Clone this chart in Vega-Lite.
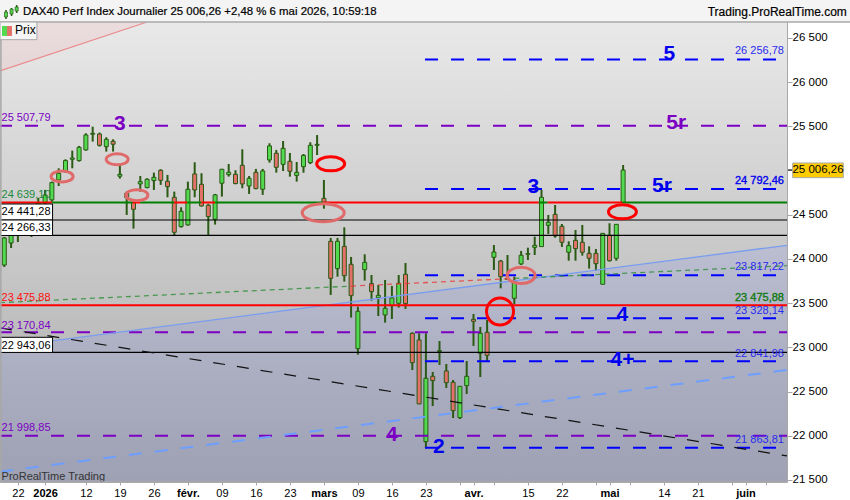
{"$schema":"https://vega.github.io/schema/vega-lite/v6.json","width":787,"height":460,"autosize":{"type":"none"},"padding":{"left":0,"top":22,"right":63,"bottom":18},"background":"#ffffff","config":{"view":{"stroke":null},"font":"Liberation Sans"},"datasets":{"candles":[{"n":0,"o":23932,"h":24249,"l":23910,"c":24238,"d":"up"},{"n":1,"o":24181,"h":24351,"l":24124,"c":24305,"d":"up"},{"n":2,"o":24305,"h":24464,"l":24192,"c":24396,"d":"up"},{"n":3,"o":24373,"h":24532,"l":24305,"c":24487,"d":"up"},{"n":4,"o":24418,"h":24611,"l":24249,"c":24554,"d":"up"},{"n":5,"o":24532,"h":24690,"l":24441,"c":24634,"d":"up"},{"n":6,"o":24634,"h":24781,"l":24554,"c":24724,"d":"up"},{"n":7,"o":24668,"h":24875,"l":24649,"c":24864,"d":"up"},{"n":8,"o":24894,"h":25026,"l":24826,"c":24970,"d":"up"},{"n":9,"o":24988,"h":25128,"l":24977,"c":25113,"d":"up"},{"n":10,"o":25128,"h":25226,"l":25026,"c":25143,"d":"up"},{"n":11,"o":25113,"h":25279,"l":25102,"c":25264,"d":"up"},{"n":12,"o":25234,"h":25422,"l":25226,"c":25403,"d":"up"},{"n":13,"o":25411,"h":25497,"l":25328,"c":25422,"d":"up"},{"n":14,"o":25414,"h":25430,"l":25271,"c":25286,"d":"down"},{"n":15,"o":25271,"h":25377,"l":25215,"c":25354,"d":"up"},{"n":16,"o":25332,"h":25354,"l":25215,"c":25298,"d":"down"},{"n":17,"o":24936,"h":25075,"l":24909,"c":24958,"d":"up"},{"n":18,"o":24743,"h":24762,"l":24498,"c":24694,"d":"down"},{"n":19,"o":24642,"h":24649,"l":24344,"c":24562,"d":"down"},{"n":20,"o":24849,"h":24939,"l":24762,"c":24875,"d":"up"},{"n":21,"o":24807,"h":24913,"l":24800,"c":24902,"d":"up"},{"n":22,"o":24887,"h":24977,"l":24781,"c":24924,"d":"up"},{"n":23,"o":25004,"h":25015,"l":24838,"c":24890,"d":"down"},{"n":24,"o":24879,"h":24951,"l":24698,"c":24819,"d":"down"},{"n":25,"o":24698,"h":24762,"l":24261,"c":24302,"d":"down"},{"n":26,"o":24366,"h":24585,"l":24355,"c":24540,"d":"up"},{"n":27,"o":24385,"h":24875,"l":24378,"c":24789,"d":"up"},{"n":28,"o":24962,"h":25094,"l":24698,"c":24781,"d":"down"},{"n":29,"o":24845,"h":24970,"l":24593,"c":24600,"d":"down"},{"n":30,"o":24608,"h":24623,"l":24261,"c":24480,"d":"down"},{"n":31,"o":24449,"h":24736,"l":24389,"c":24725,"d":"up"},{"n":32,"o":24857,"h":25019,"l":24706,"c":25015,"d":"up"},{"n":33,"o":24954,"h":25075,"l":24932,"c":24981,"d":"up"},{"n":34,"o":24958,"h":25004,"l":24845,"c":24853,"d":"down"},{"n":35,"o":25060,"h":25241,"l":24800,"c":24849,"d":"down"},{"n":36,"o":24826,"h":24939,"l":24736,"c":24913,"d":"up"},{"n":37,"o":24981,"h":25019,"l":24789,"c":24796,"d":"down"},{"n":38,"o":24789,"h":25019,"l":24725,"c":24996,"d":"up"},{"n":39,"o":25120,"h":25309,"l":25090,"c":25279,"d":"up"},{"n":40,"o":25196,"h":25234,"l":24977,"c":25037,"d":"down"},{"n":41,"o":25071,"h":25335,"l":24995,"c":25252,"d":"up"},{"n":42,"o":25105,"h":25199,"l":24931,"c":24992,"d":"down"},{"n":43,"o":24946,"h":25097,"l":24875,"c":24980,"d":"up"},{"n":44,"o":25044,"h":25188,"l":24976,"c":25172,"d":"up"},{"n":45,"o":25090,"h":25320,"l":25074,"c":25286,"d":"up"},{"n":46,"o":25286,"h":25402,"l":25176,"c":25297,"d":"up"},{"n":47,"o":24686,"h":24894,"l":24569,"c":24641,"d":"down"},{"n":48,"o":24200,"h":24238,"l":23593,"c":23781,"d":"down"},{"n":49,"o":23891,"h":24238,"l":23800,"c":24200,"d":"up"},{"n":50,"o":24143,"h":24358,"l":23744,"c":23811,"d":"down"},{"n":51,"o":23940,"h":24023,"l":23337,"c":23585,"d":"down"},{"n":52,"o":22986,"h":23461,"l":22918,"c":23408,"d":"up"},{"n":53,"o":23879,"h":24053,"l":23755,"c":23962,"d":"up"},{"n":54,"o":23721,"h":23819,"l":23529,"c":23631,"d":"down"},{"n":55,"o":23563,"h":23706,"l":23355,"c":23589,"d":"up"},{"n":56,"o":23367,"h":23762,"l":23280,"c":23442,"d":"up"},{"n":57,"o":23472,"h":23695,"l":23321,"c":23559,"d":"up"},{"n":58,"o":23499,"h":23819,"l":23450,"c":23725,"d":"up"},{"n":59,"o":23827,"h":23955,"l":23435,"c":23495,"d":"down"},{"n":60,"o":23159,"h":23170,"l":22744,"c":22827,"d":"down"},{"n":61,"o":23084,"h":23159,"l":22360,"c":22360,"d":"down"},{"n":62,"o":21934,"h":23159,"l":21858,"c":22650,"d":"up"},{"n":63,"o":22673,"h":22722,"l":22337,"c":22624,"d":"down"},{"n":64,"o":22955,"h":23072,"l":22801,"c":22963,"d":"up"},{"n":65,"o":22733,"h":22812,"l":22541,"c":22601,"d":"down"},{"n":66,"o":22605,"h":22631,"l":22201,"c":22284,"d":"down"},{"n":67,"o":22205,"h":22559,"l":22190,"c":22559,"d":"up"},{"n":68,"o":22567,"h":22846,"l":22473,"c":22673,"d":"up"},{"n":69,"o":23317,"h":23378,"l":23016,"c":23295,"d":"down"},{"n":70,"o":22933,"h":23231,"l":22665,"c":23159,"d":"up"},{"n":71,"o":23170,"h":23310,"l":22838,"c":22910,"d":"down"},{"n":72,"o":24019,"h":24158,"l":23876,"c":24079,"d":"up"},{"n":73,"o":23977,"h":23989,"l":23668,"c":23800,"d":"down"},{"n":74,"o":23781,"h":24045,"l":23762,"c":23770,"d":"down"},{"n":75,"o":23555,"h":23800,"l":23491,"c":23744,"d":"up"},{"n":76,"o":23944,"h":24091,"l":23932,"c":24042,"d":"up"},{"n":77,"o":24053,"h":24128,"l":23989,"c":24061,"d":"up"},{"n":78,"o":24132,"h":24253,"l":24045,"c":24155,"d":"up"},{"n":79,"o":24140,"h":24781,"l":24140,"c":24698,"d":"up"},{"n":80,"o":24381,"h":24498,"l":24283,"c":24415,"d":"up"},{"n":81,"o":24505,"h":24611,"l":24241,"c":24260,"d":"down"},{"n":82,"o":24370,"h":24396,"l":24136,"c":24189,"d":"down"},{"n":83,"o":24076,"h":24200,"l":23981,"c":24151,"d":"up"},{"n":84,"o":24211,"h":24328,"l":23981,"c":24117,"d":"down"},{"n":85,"o":24189,"h":24385,"l":24038,"c":24076,"d":"down"},{"n":86,"o":24064,"h":24143,"l":23891,"c":24008,"d":"down"},{"n":87,"o":24064,"h":24113,"l":23868,"c":23947,"d":"down"},{"n":88,"o":23714,"h":24290,"l":23714,"c":24290,"d":"up"},{"n":89,"o":24268,"h":24404,"l":23970,"c":23981,"d":"down"},{"n":90,"o":24008,"h":24392,"l":23981,"c":24392,"d":"up"},{"n":91,"o":24637,"h":25063,"l":24637,"c":25006,"d":"up"}]},"encoding":{"x":{"field":"n","type":"quantitative","title":null,"scale":{"domain":[-0.63,115.1],"nice":false,"zero":false,"padding":0},"axis":{"orient":"bottom","zindex":1,"grid":false,"title":null,"values":[2,6,12,17,22,27,32,37,42,47,52,57,62,67,69,72,77,82,87,89,92,97,102,107,109,112],"labelExpr":"{'2':'22','6':'2026','12':'12','17':'19','22':'26','27':'févr.','32':'09','37':'16','42':'23','47':'mars','52':'09','57':'16','62':'23','69':'avr.','77':'15','82':'22','89':'mai','97':'14','102':'21','109':'juin'}[datum.value] || ''","labelFontWeight":{"condition":{"test":"indexof([6,27,47,69,89,109],datum.value)>=0","value":"bold"},"value":"normal"},"labelFontSize":11,"labelColor":"#000000","labelFont":"Liberation Sans","labelOverlap":false,"labelBound":false,"labelFlush":false,"labelPadding":2,"tickSize":3,"tickColor":"#a8a8a8","domainColor":"#a8a8a8"}},"y":{"field":"v","type":"quantitative","title":null,"scale":{"domain":[21477,26681],"nice":false,"zero":false,"padding":0},"axis":{"orient":"right","zindex":1,"grid":false,"title":null,"values":[21500,22000,22500,23000,23500,24000,24500,25500,26000,26500],"labelExpr":"replace(format(datum.value,','),',',' ')","labelFontSize":11.5,"labelColor":"#000000","labelFont":"Liberation Sans","labelPadding":0,"tickSize":5,"tickColor":"#a8a8a8","domainColor":"#a8a8a8","labelOverlap":false}}},"layer":[{"data":{"values":[{"n":-0.63,"n2":115.1,"v":26681,"v2":21477}]},"mark":{"type":"rect","fill":{"gradient":"linear","x1":0,"y1":0,"x2":0,"y2":1,"stops":[{"offset":0,"color":"#e9e9e9"},{"offset":1,"color":"#a8a8a8"}]}},"encoding":{"x2":{"field":"n2"},"y2":{"field":"v2"}}},{"data":{"values":[{"n":-0.63,"v":22998,"b":21477},{"n":115.1,"v":24155,"b":21477}]},"mark":{"type":"area","color":"#5f74ff","opacity":0.13},"encoding":{"y2":{"field":"b"}}},{"data":{"values":[{"n":-0.63,"v":26127,"b":26681},{"n":21,"v":26681,"b":26681}]},"mark":{"type":"area","color":"#ff7a7a","opacity":0.1},"encoding":{"y2":{"field":"b"}}},{"data":{"values":[{"n":-0.63,"n2":21,"v":26127,"v2":26681}]},"mark":{"type":"rule","color":"#ec8a8a","strokeWidth":1.2},"encoding":{"x2":{"field":"n2"},"y2":{"field":"v2"}}},{"data":{"name":"candles"},"mark":{"type":"rule","color":"#2b5a14","strokeWidth":2},"encoding":{"y":{"field":"h","type":"quantitative","title":null},"y2":{"field":"l"}}},{"data":{"name":"candles"},"mark":{"type":"bar","size":4,"orient":"vertical","stroke":"#2b5a14","strokeWidth":1},"encoding":{"y":{"field":"o","type":"quantitative","title":null},"y2":{"field":"c"},"color":{"field":"d","type":"nominal","legend":null,"scale":{"domain":["up","down","r","g"],"range":["#52d94f","#e4706a","#ff0000","#008000"]}}}},{"data":{"values":[{"n":-0.63,"n2":115.1,"v":24441.28},{"n":-0.63,"n2":115.1,"v":24266.33},{"n":-0.63,"n2":115.1,"v":22943.06}]},"mark":{"type":"rule","color":"#000000","strokeWidth":1.2},"encoding":{"x2":{"field":"n2"}}},{"data":{"values":[{"n":-0.63,"n2":115.1,"v":25507.79},{"n":-0.63,"n2":115.1,"v":23170.84},{"n":-0.63,"n2":115.1,"v":21998.85}]},"mark":{"type":"rule","color":"#7b00c4","strokeWidth":2,"strokeDash":[13,13],"strokeDashOffset":1},"encoding":{"x2":{"field":"n2"}}},{"data":{"values":[{"n":61.87,"n2":113.5,"v":26256.78},{"n":61.87,"n2":113.5,"v":24792.46},{"n":61.87,"n2":113.5,"v":23817.22},{"n":61.87,"n2":113.5,"v":23328.14},{"n":61.87,"n2":113.5,"v":22841.98},{"n":61.87,"n2":113.5,"v":21863.81}]},"mark":{"type":"rule","color":"#0000ff","strokeWidth":2,"strokeDash":[13,13]},"encoding":{"x2":{"field":"n2"}}},{"data":{"values":[{"n":-0.63,"n2":115.1,"v":22998,"v2":24155}]},"mark":{"type":"rule","color":"#7b9df0","strokeWidth":1.3},"encoding":{"x2":{"field":"n2"},"y2":{"field":"v2"}}},{"data":{"values":[{"n":-0.63,"n2":115.1,"v":23220,"v2":21772}]},"mark":{"type":"rule","color":"#111111","strokeWidth":1.2,"strokeDash":[12,12]},"encoding":{"x2":{"field":"n2"},"y2":{"field":"v2"}}},{"data":{"values":[{"n":-0.63,"n2":115.1,"v":21594,"v2":22744}]},"mark":{"type":"rule","color":"#6e9eff","strokeWidth":2,"strokeDash":[13,13]},"encoding":{"x2":{"field":"n2"},"y2":{"field":"v2"}}},{"data":{"values":[{"n":-0.63,"n2":51,"v":23506,"v2":23693,"s":"above"},{"n":51,"n2":75,"v":23693,"v2":23780,"s":"below"},{"n":75,"n2":115.1,"v":23780,"v2":23924,"s":"above"}]},"mark":{"type":"rule","strokeWidth":1.3,"strokeDash":[5,4],"opacity":0.75},"encoding":{"x2":{"field":"n2"},"y2":{"field":"v2"},"stroke":{"field":"s","type":"nominal","legend":null,"scale":{"domain":["above","below"],"range":["#1f8a2a","#f03030"]}}}},{"data":{"values":[{"n":-0.63,"n2":7,"v":24639.1,"s":"r"},{"n":7,"n2":18.9,"v":24639.1,"s":"g"},{"n":18.9,"n2":20,"v":24639.1,"s":"r"},{"n":20,"n2":25,"v":24639.1,"s":"g"},{"n":25,"n2":26.9,"v":24639.1,"s":"r"},{"n":26.9,"n2":29,"v":24639.1,"s":"g"},{"n":29,"n2":31,"v":24639.1,"s":"r"},{"n":31,"n2":46.9,"v":24639.1,"s":"g"},{"n":46.9,"n2":78.6,"v":24639.1,"s":"r"},{"n":78.6,"n2":79.9,"v":24639.1,"s":"g"},{"n":79.9,"n2":90.9,"v":24639.1,"s":"r"},{"n":90.9,"n2":115.1,"v":24639.1,"s":"g"},{"n":-0.63,"n2":115.1,"v":23475.88,"s":"r"}]},"mark":{"type":"rule","strokeWidth":2},"encoding":{"x2":{"field":"n2"},"color":{"field":"s","type":"nominal","legend":null,"scale":{"domain":["up","down","r","g"],"range":["#52d94f","#e4706a","#ff0000","#008000"]}}}},{"data":{"values":[{"n":8.5,"v":24933},{"n":16.6,"v":25127},{"n":19.5,"v":24722}]},"mark":{"type":"point","shape":"M-1,0A1,0.5,0,1,1,1,0A1,0.5,0,1,1,-1,0Z","filled":false,"size":484,"stroke":"#e06a6a","strokeWidth":3,"opacity":1}},{"data":{"values":[{"n":46.9,"v":24523}]},"mark":{"type":"point","shape":"M-1,0A1,0.43,0,1,1,1,0A1,0.43,0,1,1,-1,0Z","filled":false,"size":1764,"stroke":"#e06a6a","strokeWidth":3,"opacity":1}},{"data":{"values":[{"n":76,"v":23814}]},"mark":{"type":"point","shape":"M-1,0A1,0.58,0,1,1,1,0A1,0.58,0,1,1,-1,0Z","filled":false,"size":784,"stroke":"#e06a6a","strokeWidth":3,"opacity":1}},{"data":{"values":[{"n":48,"v":25076},{"n":90.9,"v":24534}]},"mark":{"type":"point","shape":"M-1,0A1,0.5,0,1,1,1,0A1,0.5,0,1,1,-1,0Z","filled":false,"size":784,"stroke":"#ff0000","strokeWidth":3,"opacity":1}},{"data":{"values":[{"n":72.9,"v":23405}]},"mark":{"type":"point","shape":"M-1,0A1,1,0,1,1,1,0A1,1,0,1,1,-1,0Z","filled":false,"size":729,"stroke":"#ff0000","strokeWidth":3,"opacity":1}},{"data":{"values":[{"n":-0.63,"n2":7.1,"v":24622,"v2":24441},{"n":-0.63,"n2":7.1,"v":24441,"v2":24266},{"n":-0.63,"n2":7.1,"v":23114,"v2":22943}]},"mark":{"type":"rect","fill":"#ffffff","stroke":"#000000","strokeWidth":1},"encoding":{"x2":{"field":"n2"},"y2":{"field":"v2"}}},{"data":{"values":[{"n":-0.4,"v":25595,"t":"25 507,79"},{"n":-0.4,"v":23246,"t":"23 170,84"},{"n":-0.4,"v":22088,"t":"21 998,85"}]},"mark":{"type":"text","align":"left","baseline":"middle","fontSize":11,"color":"#7b00c4"},"encoding":{"text":{"field":"t"}}},{"data":{"values":[{"n":-0.4,"v":24724,"t":"24 639,10"}]},"mark":{"type":"text","align":"left","baseline":"middle","fontSize":11,"color":"#1c8a3c"},"encoding":{"text":{"field":"t"}}},{"data":{"values":[{"n":-0.4,"v":23559,"t":"23 475,88"}]},"mark":{"type":"text","align":"left","baseline":"middle","fontSize":11,"color":"#ff1010"},"encoding":{"text":{"field":"t"}}},{"data":{"values":[{"n":-0.4,"v":24526,"t":"24 441,28"},{"n":-0.4,"v":24351,"t":"24 266,33"},{"n":-0.4,"v":23021,"t":"22 943,06"}]},"mark":{"type":"text","align":"left","baseline":"middle","fontSize":11,"color":"#000000"},"encoding":{"text":{"field":"t"}}},{"data":{"values":[{"n":-0.4,"v":21537,"t":"ProRealTime Trading"}]},"mark":{"type":"text","align":"left","baseline":"middle","fontSize":11,"color":"#333333"},"encoding":{"text":{"field":"t"}}},{"data":{"values":[{"n":114.65,"v":26353,"t":"26 256,78"},{"n":114.65,"v":23906,"t":"23 817,22"},{"n":114.65,"v":23408,"t":"23 328,14"},{"n":114.65,"v":22925,"t":"22 841,98"},{"n":114.65,"v":21952,"t":"21 863,81"}]},"mark":{"type":"text","align":"right","baseline":"middle","fontSize":11,"color":"#2a2af0"},"encoding":{"text":{"field":"t"}}},{"data":{"values":[{"n":114.65,"v":24879,"t":"24 792,46"}]},"mark":{"type":"text","align":"right","baseline":"middle","fontSize":11,"color":"#0000ee","stroke":"#0000ee","strokeWidth":0.35},"encoding":{"text":{"field":"t"}}},{"data":{"values":[{"n":114.65,"v":23559,"t":"23 475,88"}]},"mark":{"type":"text","align":"right","baseline":"middle","fontSize":11,"color":"#117a11","stroke":"#117a11","strokeWidth":0.35},"encoding":{"text":{"field":"t"}}},{"data":{"values":[{"n":17,"v":25527,"t":"3"},{"n":98.8,"v":25542,"t":"5r"},{"n":57,"v":22009,"t":"4"}]},"mark":{"type":"text","align":"center","baseline":"middle","fontSize":21,"fontWeight":"bold","color":"#7b00c4"},"encoding":{"text":{"field":"t"}}},{"data":{"values":[{"n":97.8,"v":26319,"t":"5"},{"n":96.7,"v":24829,"t":"5r"},{"n":77.8,"v":24818,"t":"3"},{"n":90.9,"v":23367,"t":"4"},{"n":90.9,"v":22857,"t":"4+"},{"n":63.9,"v":21877,"t":"2"}]},"mark":{"type":"text","align":"center","baseline":"middle","fontSize":21,"fontWeight":"bold","color":"#0000ee"},"encoding":{"text":{"field":"t"}}},{"data":{"values":[{"n":-0.63,"n2":124.4,"v":26930,"v2":26681}]},"mark":{"type":"rect","fill":"#f4f4f4"},"encoding":{"x2":{"field":"n2"},"y2":{"field":"v2"}}},{"data":{"values":[{"n":-0.63,"n2":124.4,"v":26681},{"n":-0.63,"n2":115.1,"v":21477}]},"mark":{"type":"rule","color":"#a8a8a8","strokeWidth":1.5},"encoding":{"x2":{"field":"n2"}}},{"data":{"values":[{"n":-0.5,"v":26681,"v2":21477}]},"mark":{"type":"rule","color":"#a8a8a8","strokeWidth":1.5},"encoding":{"y2":{"field":"v2"}}},{"data":{"values":[{"n":0.25,"h":26817,"l":26715,"o":26738,"c":26794},{"n":1.07,"h":26839,"l":26749,"o":26771,"c":26828},{"n":1.82,"h":26873,"l":26783,"o":26805,"c":26851}]},"mark":{"type":"rule","color":"#2b5a14","strokeWidth":1.5},"encoding":{"y":{"field":"h","type":"quantitative","title":null},"y2":{"field":"l"}}},{"data":{"values":[{"n":0.25,"h":26817,"l":26715,"o":26738,"c":26794},{"n":1.07,"h":26839,"l":26749,"o":26771,"c":26828},{"n":1.82,"h":26873,"l":26783,"o":26805,"c":26851}]},"mark":{"type":"bar","size":3,"orient":"vertical","color":"#52d94f","stroke":"#2b5a14","strokeWidth":0.7},"encoding":{"y":{"field":"o","type":"quantitative","title":null},"y2":{"field":"c"}}},{"data":{"values":[{"n":-0.63,"n2":4.8,"v":26681,"v2":26481}]},"mark":{"type":"rect","fill":"#f5f5f5","stroke":"#a8a8a8","strokeWidth":1},"encoding":{"x2":{"field":"n2"},"y2":{"field":"v2"}}},{"data":{"values":[{"n":-0.34,"n2":0.4,"v":26636,"v2":26523,"s":"up"},{"n":0.4,"n2":1.13,"v":26636,"v2":26523,"s":"down"}]},"mark":{"type":"rect"},"encoding":{"x2":{"field":"n2"},"y2":{"field":"v2"},"color":{"field":"s","type":"nominal","legend":null,"scale":{"domain":["up","down","r","g"],"range":["#52d94f","#e4706a","#ff0000","#008000"]}}}},{"data":{"values":[{"n":1.57,"v":26585,"t":"Prix"}]},"mark":{"type":"text","align":"left","baseline":"middle","fontSize":12,"color":"#000000"},"encoding":{"text":{"field":"t"}}},{"data":{"values":[{"n":2.75,"v":26794,"t":"DAX40 Perf Index Journalier 25 006,26 +2,48 % 6 mai 2026, 10:59:18"}]},"mark":{"type":"text","align":"left","baseline":"middle","fontSize":11.4,"color":"#000000","stroke":"#000000","strokeWidth":0.2},"encoding":{"text":{"field":"t"}}},{"data":{"values":[{"n":123.9,"v":26794,"t":"Trading.ProRealTime.com"}]},"mark":{"type":"text","align":"right","baseline":"middle","fontSize":12,"color":"#000000","stroke":"#000000","strokeWidth":0.2},"encoding":{"text":{"field":"t"}}},{"data":{"values":[{"n":115.1,"n2":115.94,"v":25006}]},"mark":{"type":"rule","color":"#000000","strokeWidth":1.2},"encoding":{"x2":{"field":"n2"}}},{"data":{"values":[{"n":115.94,"n2":123.38,"v":25086,"v2":24920}]},"mark":{"type":"rect","fill":"#ffcc00","stroke":"#a8a8a8","strokeWidth":1},"encoding":{"x2":{"field":"n2"},"y2":{"field":"v2"}}},{"data":{"values":[{"n":119.66,"v":25006,"t":"25 006,26"}]},"mark":{"type":"text","align":"center","baseline":"middle","fontSize":11.5,"color":"#000000"},"encoding":{"text":{"field":"t"}}}]}
